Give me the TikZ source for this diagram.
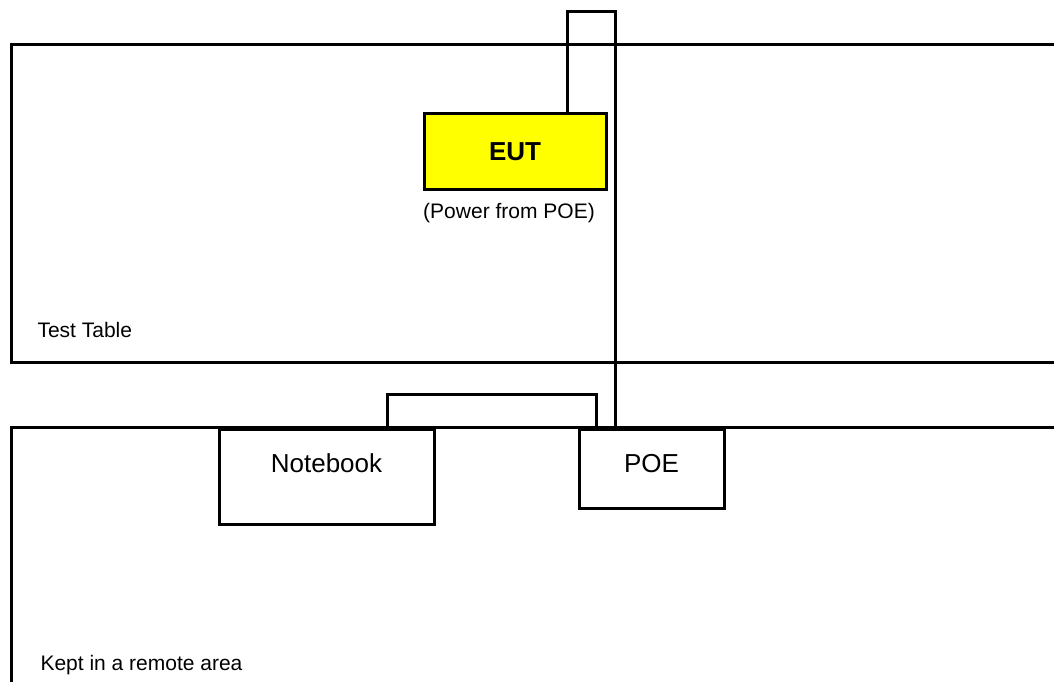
\documentclass[tikz,border=0pt]{standalone}
\usepackage{fontspec}
\setmainfont{Liberation Sans}
\usepackage{xcolor}
\definecolor{eutyellow}{HTML}{FFFF00}

\begin{document}
\begin{tikzpicture}[x=1pt,y=-1pt,line width=3pt,
  area/.style={draw,anchor=north west,inner sep=0pt,outer sep=0pt},
  unit/.style={draw,anchor=north west,inner sep=0pt,outer sep=0pt},
  bigtext/.style={font=\fontsize{26}{30}\selectfont,inner sep=0pt},
  smalltext/.style={font=\fontsize{21}{24}\selectfont,inner sep=0pt}]
  \useasboundingbox (0,0) rectangle (1054,682);
  \clip (0,0) rectangle (1054,682);
  % test table and remote area
  \node[area,minimum width=1100,minimum height=317] (table) at (11,45) {};
  \node[area,minimum width=1100,minimum height=300] (remote) at (11,427) {};
  \node[smalltext,anchor=base west] (tablelbl) at (36,337) {Test Table};
  \node[smalltext,anchor=base west] (remotelbl) at (39,670) {Kept in a remote area};
  % equipment under test
  \node[unit,fill=eutyellow,minimum width=182,minimum height=75,
    bigtext,font=\fontsize{26}{30}\selectfont\bfseries] (eut) at (424,114) {EUT};
  \node[smalltext] (pwr) at (509,213) {(Power from POE)};
  % remote equipment
  \node[unit,minimum width=215,minimum height=95] (nb) at (219,429) {};
  \node[bigtext,anchor=base] (nblbl) at (326.5,472.7) {Notebook};
  \node[unit,minimum width=145,minimum height=79] (poe) at (579,429) {};
  \node[bigtext,anchor=base] (poelbl) at (651.5,472.7) {POE};
  % cables
  \draw (eut.north west) ++(143,0) -- ++(0,-102) -| ([xshift=36pt]poe.north west);
  \draw ([xshift=168pt]nb.north west) -- ++(0,-35) -| ([xshift=17pt]poe.north west);
\end{tikzpicture}
\end{document}
